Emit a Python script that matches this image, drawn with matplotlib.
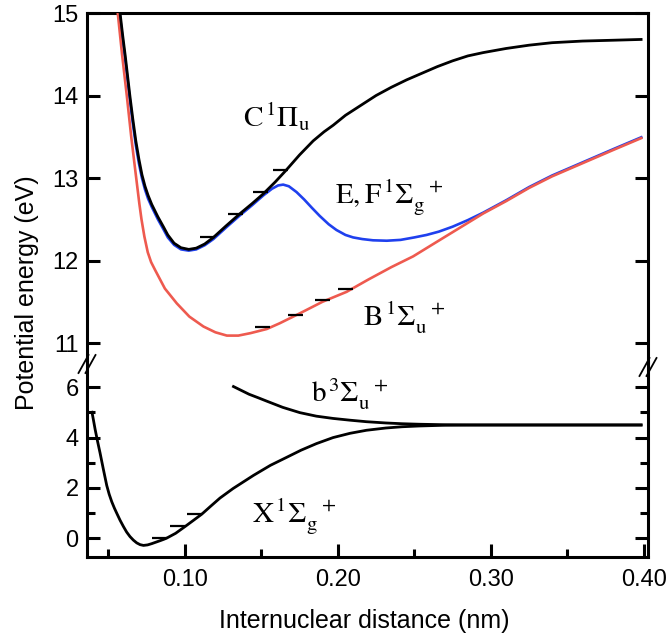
import matplotlib
matplotlib.use("Agg")
import matplotlib.pyplot as plt
from matplotlib.lines import Line2D

plt.rcParams['font.family'] = ['Liberation Sans', 'DejaVu Sans']
plt.rcParams['mathtext.fontset'] = 'stix'

# ---------------- data ----------------
# C 1Pi_u (black, upper panel)
x_C = [0.0560, 0.0577, 0.0594, 0.0611, 0.0626, 0.0641, 0.0660, 0.0680, 0.0700, 0.0720,
       0.0740, 0.0760, 0.0784, 0.0824, 0.0860, 0.0889, 0.0930, 0.0975, 0.1026, 0.1075,
       0.1130, 0.1187, 0.1270, 0.1362, 0.1440, 0.1514, 0.1590, 0.1660, 0.1750, 0.1839,
       0.1910, 0.1970, 0.2050, 0.2150, 0.2250, 0.2350, 0.2450, 0.2550, 0.2650, 0.2750,
       0.2850, 0.2950, 0.3100, 0.3250, 0.3400, 0.3600, 0.3800, 0.3991]
y_C = [15.30, 15.00, 14.73, 14.48, 14.24, 14.00, 13.72, 13.45, 13.23, 13.04,
       12.90, 12.79, 12.68, 12.53, 12.41, 12.31, 12.21, 12.155, 12.135, 12.15,
       12.20, 12.28, 12.42, 12.57, 12.69, 12.81, 12.95, 13.09, 13.28, 13.45,
       13.56, 13.64, 13.76, 13.88, 14.00, 14.10, 14.19, 14.27, 14.35, 14.42,
       14.48, 14.52, 14.57, 14.61, 14.64, 14.66, 14.67, 14.68]

# E,F 1Sigma_g+ (blue, upper panel)
x_EF = [0.0560, 0.0577, 0.0594, 0.0611, 0.0626, 0.0641, 0.0660, 0.0680, 0.0700, 0.0720,
        0.0740, 0.0760, 0.0784, 0.0824, 0.0860, 0.0889, 0.0930, 0.0975, 0.1026, 0.1075,
        0.1130, 0.1187, 0.1270, 0.1362, 0.1440, 0.1514, 0.1570, 0.1610, 0.1643, 0.1680,
        0.1730, 0.1780, 0.1830, 0.1882, 0.1940, 0.1991, 0.2050, 0.2100, 0.2160, 0.2230,
        0.2320, 0.2410, 0.2500, 0.2580, 0.2660, 0.2750, 0.2850, 0.2950, 0.3100, 0.3250,
        0.3400, 0.3600, 0.3800, 0.3991]
y_EF = [15.25, 14.95, 14.68, 14.43, 14.19, 13.95, 13.67, 13.40, 13.18, 13.00,
        12.86, 12.75, 12.65, 12.50, 12.38, 12.28, 12.19, 12.135, 12.12, 12.135,
        12.185, 12.26, 12.40, 12.55, 12.67, 12.79, 12.87, 12.91, 12.92, 12.90,
        12.83, 12.74, 12.64, 12.54, 12.44, 12.37, 12.31, 12.28, 12.26, 12.245,
        12.24, 12.25, 12.28, 12.31, 12.35, 12.41, 12.49, 12.58, 12.73, 12.89,
        13.03, 13.19, 13.35, 13.50]

# B 1Sigma_u+ (red, upper panel)
x_B = [0.0540, 0.0562, 0.0590, 0.0621, 0.0650, 0.0676, 0.0703, 0.0717, 0.0736, 0.0758,
       0.0780, 0.0806, 0.0870, 0.0948, 0.1030, 0.1122, 0.1200, 0.1275, 0.1350, 0.1430,
       0.1536, 0.1621, 0.1752, 0.1900, 0.2057, 0.2200, 0.2350, 0.2492, 0.2650, 0.2800,
       0.2950, 0.3100, 0.3250, 0.3400, 0.3600, 0.3800, 0.3991]
y_B = [15.35, 15.00, 14.50, 14.00, 13.50, 13.10, 12.69, 12.50, 12.29, 12.10,
       11.98, 11.885, 11.66, 11.48, 11.32, 11.20, 11.13, 11.09, 11.09, 11.12,
       11.17, 11.24, 11.36, 11.50, 11.62, 11.77, 11.92, 12.05, 12.23, 12.40,
       12.57, 12.72, 12.88, 13.02, 13.18, 13.34, 13.49]

# X 1Sigma_g+ (black, lower panel)
x_X = [0.0392, 0.0403, 0.0414, 0.0430, 0.0446, 0.0468, 0.0490, 0.0506, 0.0523, 0.0540,
       0.0556, 0.0577, 0.0599, 0.0620, 0.0642, 0.0664, 0.0686, 0.0708, 0.0730, 0.0757,
       0.0784, 0.0812, 0.0840, 0.0862, 0.0882, 0.0940, 0.1002, 0.1060, 0.1111, 0.1170,
       0.1230, 0.1316, 0.1449, 0.1560, 0.1667, 0.1760, 0.1860, 0.1969, 0.2080, 0.2187,
       0.2314, 0.2420, 0.2530, 0.2700, 0.2900, 0.3200, 0.3600, 0.3991]
y_X = [5.06, 4.70, 4.33, 3.85, 3.40, 2.74, 2.10, 1.75, 1.45, 1.20,
       0.99, 0.72, 0.47, 0.25, 0.07, -0.07, -0.18, -0.25, -0.28, -0.26,
       -0.21, -0.15, -0.09, -0.04, 0.01, 0.20, 0.47, 0.73, 0.96, 1.28,
       1.60, 1.98, 2.50, 2.90, 3.22, 3.50, 3.76, 4.00, 4.17, 4.29,
       4.38, 4.43, 4.46, 4.49, 4.50, 4.50, 4.50, 4.50]

# b 3Sigma_u+ (black, lower panel)
x_b = [0.1310, 0.1370, 0.1420, 0.1480, 0.1534, 0.1640, 0.1752, 0.1860, 0.1969, 0.2080,
       0.2187, 0.2314, 0.2420, 0.2530, 0.2700, 0.2900, 0.3200, 0.3600, 0.3991]
y_b = [6.05, 5.87, 5.72, 5.58, 5.45, 5.20, 4.99, 4.85, 4.76, 4.69,
       4.63, 4.58, 4.55, 4.53, 4.51, 4.50, 4.50, 4.50, 4.50]

# vibrational levels (energy, start of dash)
lev_C_E = [12.29, 12.56, 12.83, 13.10]
lev_C_x = [0.1098, 0.1283, 0.1447, 0.1577]
lev_B_E = [11.19, 11.34, 11.52, 11.66]
lev_B_x = [0.1458, 0.1675, 0.1850, 0.2002]
lev_X_E = [0.00, 0.50, 0.96]
lev_X_x = [0.0784, 0.0904, 0.1013]
lev_len = 0.0098

x_ticks = [0.10, 0.20, 0.30, 0.40]
x_minor = [0.05, 0.15, 0.25, 0.35]
y_top_ticks = [11, 12, 13, 14, 15]
y_bot_ticks = [0, 2, 4, 6]
y_bot_minor = [1, 3, 5]

RED = '#EE5A4F'
BLUE = '#1F40EE'

# ---------------- figure ----------------
W, H = 672, 642
fig = plt.figure(figsize=(W / 100, H / 100), dpi=100)

def fx(px):
    return px / W

def fy(py):
    return 1 - py / H

L, R = 87, 648
T, M, Bt = 13, 362, 557
ax_top = fig.add_axes([fx(L), fy(M), fx(R) - fx(L), fy(T) - fy(M)])
ax_bot = fig.add_axes([fx(L), fy(Bt), fx(R) - fx(L), fy(M) - fy(Bt)])

xlim = (0.0361, 0.4027)
for ax in (ax_top, ax_bot):
    ax.set_xlim(*xlim)
    for s in ax.spines.values():
        s.set_linewidth(2.2)
    ax.tick_params(which='major', direction='in', length=9.5, width=2.2,
                   labelsize=17, pad=6, left=True, right=True, top=False)
    ax.tick_params(which='minor', direction='in', length=5.5, width=2.2,
                   left=True, right=True, top=False)

ax_top.set_ylim(10.77, 15.0)
ax_bot.set_ylim(-0.74, 7.0)
ax_top.spines['bottom'].set_visible(False)
ax_bot.spines['top'].set_visible(False)

ax_top.set_yticks(y_top_ticks)
ax_top.tick_params(axis='x', which='both', bottom=False, top=False, labelbottom=False)
ax_bot.set_yticks(y_bot_ticks)
ax_bot.set_yticks(y_bot_minor, minor=True)
ax_bot.set_xticks(x_ticks)
ax_bot.set_xticks(x_minor, minor=True)
ax_bot.set_xticklabels([f"{v:.2f}" for v in x_ticks])
ax_bot.tick_params(axis='x', which='major', pad=9)

line_kw = dict(solid_capstyle='butt', solid_joinstyle='round')
# curves (upper)
ax_top.plot(x_EF, y_EF, color=BLUE, lw=1.9, zorder=2, **line_kw)
ax_top.plot(x_B, y_B, color=RED, lw=1.9, zorder=3, **line_kw)
ax_top.plot(x_C, y_C, color='black', lw=2.0, zorder=4, **line_kw)
ax_top.hlines(lev_C_E, lev_C_x, [v + lev_len for v in lev_C_x], color='black', lw=1.6, zorder=5)
ax_top.hlines(lev_B_E, lev_B_x, [v + lev_len for v in lev_B_x], color='black', lw=1.6, zorder=5)

# curves (lower)
ax_bot.plot(x_X, y_X, color='black', lw=2.0, **line_kw)
ax_bot.plot(x_b, y_b, color='black', lw=2.0, **line_kw)
ax_bot.hlines(lev_X_E, lev_X_x, [v + lev_len for v in lev_X_x], color='black', lw=1.6, zorder=5)

# state labels
lab_kw = dict(fontsize=21, va='baseline', ha='left', color='black')
ax_top.text(0.1379, 13.62, r'$\mathrm{C}^{\,1}\Pi_{\mathrm{u}}$', **lab_kw)
ax_top.text(0.1980, 12.70, r'$\mathrm{E,F}^{\,1}\Sigma_{\mathrm{g}}^{\ \ \,+}$', **lab_kw)
ax_top.text(0.2166, 11.20, r'$\mathrm{B}^{\,1}\Sigma_{\mathrm{u}}^{\ \ \,+}$', **lab_kw)
ax_bot.text(0.1828, 5.40, r'$\mathrm{b}^{\,3}\Sigma_{\mathrm{u}}^{\ \ \,+}$', **lab_kw)
ax_bot.text(0.1436, 0.66, r'$\mathrm{X}^{\,1}\Sigma_{\mathrm{g}}^{\ \ \,+}$', **lab_kw)

# axis break marks
for cx, cy in ((87, 364), (648, 367)):
    for off in (-3.5, 3.5):
        fig.add_artist(Line2D([fx(cx + off - 5), fx(cx + off + 5)],
                              [fy(cy + 9), fy(cy - 9)],
                              transform=fig.transFigure, color='black', lw=1.3))

fig.text(fx(364), fy(628), 'Internuclear distance (nm)', fontsize=18,
         ha='center', va='baseline')
fig.text(fx(27), fy(293), 'Potential energy (eV)', fontsize=18,
         ha='center', va='center', rotation=90)

fig.savefig('out.png', dpi=100)
